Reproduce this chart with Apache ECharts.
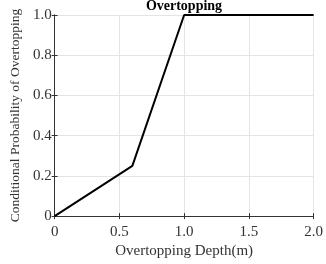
<!DOCTYPE html>
<html>
<head>
<meta charset="utf-8">
<script src="https://cdn.jsdelivr.net/npm/echarts@6/dist/echarts.min.js"></script>
<style>
html, body { margin: 0; padding: 0; background: #fff; }
#chart { width: 326px; height: 264px; }
</style>
</head>
<body>
<div id="chart"></div>
<script>
// data
var depth = [0, 0.6, 1.0, 2.0];
var prob = [0, 0.25, 1.0, 1.0];
var xTicks = ['0', '0.5', '1.0', '1.5', '2.0'];
var yTicks = ['0', '0.2', '0.4', '0.6', '0.8', '1.0'];

var font = '"Liberation Serif", "DejaVu Serif", serif';
var axisColor = '#333';

var chart = echarts.init(document.getElementById('chart'));

var pts = [];
for (var i = 0; i < depth.length; i++) {
	pts.push([depth[i], prob[i]]);
}

function xLabel(v) {
	return xTicks[Math.round(v / 0.5)];
}
function yLabel(v) {
	return yTicks[Math.round(v / 0.2)];
}

var option = {
	animation: false,
	title: {
		text: 'Overtopping',
		left: 179,
		textAlign: 'center',
		top: -6,
		textStyle: {
			fontFamily: font,
			fontSize: 14,
			fontWeight: 'bold',
			color: '#000'
		}
	},
	grid: {
		left: 38,
		right: 7,
		top: 15,
		bottom: 34,
		containLabel: false
	},
	xAxis: [{
		type: 'value',
		min: 0,
		max: 2,
		interval: 0.5,
		name: 'Overtopping Depth(m)',
		nameLocation: 'middle',
		nameGap: 23,
		nameTextStyle: { fontFamily: font, fontSize: 15, color: '#333' },
		axisLine: { show: true, lineStyle: { color: axisColor, width: 1 } },
		axisTick: { show: true, inside: true, length: 3, lineStyle: { color: axisColor } },
		axisLabel: {
			fontFamily: font, fontSize: 15, color: '#333', margin: 8,
			formatter: xLabel
		},
		splitLine: { show: true, lineStyle: { color: '#e4e4e4', width: 1 } }
	}, {
		type: 'value',
		position: 'top',
		min: 0,
		max: 2,
		interval: 0.5,
		axisLine: { show: true, lineStyle: { color: axisColor, width: 1 } },
		axisTick: { show: true, inside: true, length: 3, lineStyle: { color: axisColor } },
		axisLabel: { show: false },
		splitLine: { show: false }
	}],
	yAxis: [{
		type: 'value',
		min: 0,
		max: 1,
		interval: 0.2,
		name: 'Conditional Probability of Overtopping',
		nameLocation: 'middle',
		nameGap: 28,
		nameTextStyle: { fontFamily: font, fontSize: 13.5, color: '#333' },
		axisLine: { show: true, lineStyle: { color: axisColor, width: 1 } },
		axisTick: { show: true, inside: true, length: 3, lineStyle: { color: axisColor } },
		axisLabel: {
			fontFamily: font, fontSize: 15, color: '#333', margin: 3,
			formatter: yLabel
		},
		splitLine: { show: true, lineStyle: { color: '#e4e4e4', width: 1 } }
	}, {
		type: 'value',
		position: 'right',
		min: 0,
		max: 1,
		interval: 0.2,
		axisLine: { show: true, lineStyle: { color: axisColor, width: 1 } },
		axisTick: { show: true, inside: true, length: 3, lineStyle: { color: axisColor } },
		axisLabel: { show: false },
		splitLine: { show: false }
	}],
	series: [{
		type: 'line',
		data: pts,
		xAxisIndex: 0,
		yAxisIndex: 0,
		showSymbol: false,
		lineStyle: { color: '#000', width: 2 },
		z: 5
	}]
};

chart.setOption(option);
</script>
</body>
</html>
